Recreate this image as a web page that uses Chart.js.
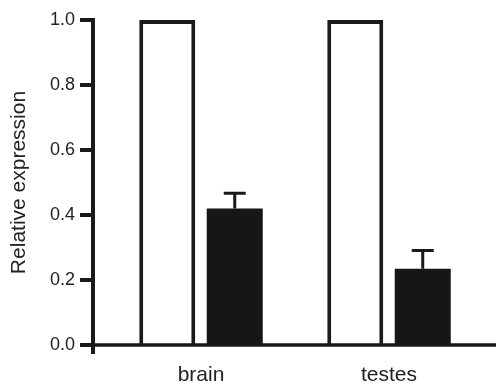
<!DOCTYPE html>
<html>
<head>
<meta charset="utf-8">
<script src="https://cdn.jsdelivr.net/npm/chart.js@4.4.1/dist/chart.umd.min.js"></script>
<style>
  html, body { margin: 0; padding: 0; background: #fff; }
  #wrap { width: 496px; height: 390px; }
</style>
</head>
<body>
<div id="wrap"><canvas id="chart" width="496" height="390"></canvas></div>
<script>
// data
const tissues = ["brain", "testes"];
const controlValues = [1.0, 1.0];
const treatedValues = [0.42, 0.235];
const treatedErrors = [0.047, 0.056];
const yTicks = [0, 0.2, 0.4, 0.6, 0.8, 1.0];

const INK = "#1a1a1a";
const FONT = "'Liberation Sans', Arial, Helvetica, sans-serif";

// axis lines + ticks drawn like the original (offset left of the plot)
const axesPlugin = {
    id: "axesPlugin",
    afterDatasetsDraw(chart) {
        const ctx = chart.ctx;
        const y = chart.scales.y;
        const axisX = 93;
        const y0 = y.getPixelForValue(0);
        const y1 = y.getPixelForValue(1);
        ctx.save();
        ctx.strokeStyle = INK;
        ctx.lineCap = "butt";

        // y axis
        ctx.lineWidth = 4;
        ctx.beginPath();
        ctx.moveTo(axisX, y1 - 2);
        ctx.lineTo(axisX, y0 + 9);
        ctx.stroke();

        // y ticks
        yTicks.forEach(v => {
            const py = y.getPixelForValue(v);
            ctx.beginPath();
            ctx.moveTo(80, py);
            ctx.lineTo(axisX + 2, py);
            ctx.stroke();
        });

        // x axis
        ctx.lineWidth = 3.5;
        ctx.beginPath();
        ctx.moveTo(80, y0);
        ctx.lineTo(chart.width, y0);
        ctx.stroke();
        ctx.restore();
    }
};

// error bars on the filled bars (upper only)
const errorBarPlugin = {
    id: "errorBarPlugin",
    afterDatasetsDraw(chart) {
        const ctx = chart.ctx;
        const y = chart.scales.y;
        const meta = chart.getDatasetMeta(1);
        ctx.save();
        ctx.strokeStyle = INK;
        ctx.lineWidth = 3;
        meta.data.forEach((bar, i) => {
            const top = y.getPixelForValue(treatedValues[i] + treatedErrors[i]);
            ctx.beginPath();
            ctx.moveTo(bar.x, bar.y);
            ctx.lineTo(bar.x, top);
            ctx.moveTo(bar.x - 11, top);
            ctx.lineTo(bar.x + 11, top);
            ctx.stroke();
        });
        ctx.restore();
    }
};

new Chart(document.getElementById("chart"), {
    type: "bar",
    data: {
        labels: tissues,
        datasets: [
            {
                data: controlValues,
                backgroundColor: "#ffffff",
                borderColor: INK,
                borderWidth: 4,
                borderSkipped: "start"
            },
            {
                data: treatedValues,
                backgroundColor: "#161616",
                borderWidth: 0
            }
        ]
    },
    options: {
        responsive: false,
        animation: false,
        devicePixelRatio: 1,
        categoryPercentage: 0.718,
        barPercentage: 0.83,
        layout: { padding: { top: 20, right: 13, left: 0, bottom: 0 } },
        plugins: {
            legend: { display: false },
            tooltip: { enabled: false }
        },
        scales: {
            x: {
                grid: { display: false, drawTicks: false },
                border: { display: false },
                ticks: {
                    color: "#222",
                    padding: 18,
                    font: { family: FONT, size: 21 }
                },
                afterFit: (scale) => { scale.height = 45; }
            },
            y: {
                min: 0,
                max: 1,
                grid: { display: false, drawTicks: false },
                border: { display: false },
                ticks: {
                    stepSize: 0.2,
                    color: "#222",
                    padding: 32,
                    font: { family: FONT, size: 18 },
                    callback: (v) => Number(v).toFixed(1)
                },
                title: {
                    display: true,
                    text: "Relative expression",
                    color: "#222",
                    padding: { top: 7, bottom: 0 },
                    font: { family: FONT, size: 21 }
                },
                afterFit: (scale) => {
                    scale.width = 107;
                    // label padding is horizontal here, don't let it grow the top margin
                    scale.paddingTop = 11;
                    scale.paddingBottom = 11;
                }
            }
        }
    },
    plugins: [axesPlugin, errorBarPlugin]
});
</script>
</body>
</html>
